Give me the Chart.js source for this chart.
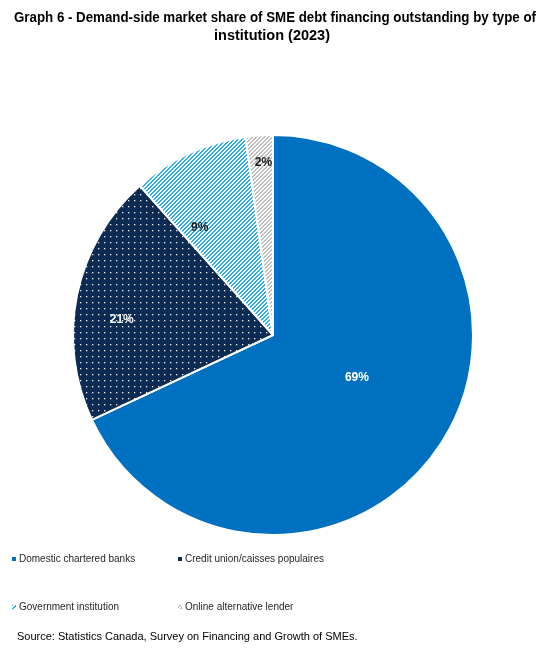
<!DOCTYPE html>
<html>
<head>
<meta charset="utf-8">
<script src="https://cdn.jsdelivr.net/npm/chart.js@4.4.1/dist/chart.umd.min.js"></script>
<style>
  html, body { margin: 0; padding: 0; background: #ffffff; }
  #wrap { width: 550px; height: 656px; }
</style>
</head>
<body>
<div id="wrap"><canvas id="c" width="550" height="656"></canvas></div>
<script>
// ---- Data ----
const categories = [
  "Domestic chartered banks",
  "Credit union/caisses populaires",
  "Government institution",
  "Online alternative lender"
];
const shareValues = [68.1, 20.4, 9.4, 2.2];
const shareLabels = ["69%", "21%", "9%", "2%"];
const titleLines = [
  "Graph 6 - Demand-side market share of SME debt financing outstanding by type of",
  "institution (2023)"
];
const sourceNote = "Source: Statistics Canada, Survey on Financing and Growth of SMEs.";

// ---- Styling ----
const FONT = "'Liberation Sans', Arial, sans-serif";
const BLUE = "#0070C0";
const NAVY = "#0B2B52";
const LIGHTBLUE = "#2AAEE8";
const GRAY = "#BDBDBD";

function makePattern(kind) {
  const c = document.createElement("canvas");
  const ctx = c.getContext("2d");
  if (kind === "dots") {
    c.width = 6; c.height = 6;
    ctx.fillStyle = NAVY; ctx.fillRect(0, 0, 6, 6);
    ctx.fillStyle = "rgba(255,255,255,0.95)";
    ctx.fillRect(2, 2, 1.3, 1.3);
  } else {
    const col = kind === "blueStripe" ? LIGHTBLUE : GRAY;
    c.width = 4; c.height = 4;
    ctx.fillStyle = "#ffffff"; ctx.fillRect(0, 0, 4, 4);
    ctx.fillStyle = col;
    for (let x = 0; x < 4; x++) {
      for (let y = 0; y < 4; y++) {
        if ((x + y) % 4 < 2) ctx.fillRect(x, y, 1, 1);
      }
    }
  }
  return document.createElement("canvas").getContext("2d").createPattern(c, "repeat");
}

const fills = [BLUE, makePattern("dots"), makePattern("blueStripe"), makePattern("grayStripe")];
const labelColors = ["#ffffff", "#ffffff", "#1a1a1a", "#1a1a1a"];
// where each value label sits inside its slice: fraction along the arc, fraction of radius
const labelPlacement = [
  { along: 0.477, radial: 0.47 },
  { along: 0.42, radial: 0.76 },
  { along: 0.22, radial: 0.65 },
  { along: 0.6, radial: 0.865 }
];

const valueLabelPlugin = {
  id: "valueLabels",
  afterDatasetsDraw(chart) {
    const ctx = chart.ctx;
    const meta = chart.getDatasetMeta(0);
    ctx.save();
    ctx.font = "bold 12px " + FONT;
    ctx.textAlign = "center";
    ctx.textBaseline = "middle";
    meta.data.forEach((arc, i) => {
      const p = arc.getProps(["x", "y", "startAngle", "endAngle", "outerRadius"], true);
      const pl = labelPlacement[i];
      const ang = p.startAngle + (p.endAngle - p.startAngle) * pl.along;
      const r = p.outerRadius * pl.radial;
      ctx.fillStyle = labelColors[i];
      ctx.fillText(shareLabels[i], p.x + Math.cos(ang) * r, p.y + Math.sin(ang) * r);
    });
    ctx.restore();
  }
};

const textPlugin = {
  id: "titleLegendSource",
  afterDraw(chart) {
    const ctx = chart.ctx;
    ctx.save();
    // title
    ctx.font = "bold 14.5px " + FONT;
    ctx.fillStyle = "#000000";
    ctx.textAlign = "center";
    ctx.textBaseline = "middle";
    ctx.fillText(titleLines[0], 275, 18, 522);
    ctx.fillText(titleLines[1], 272, 36, 522);
    // legend
    ctx.font = "10px " + FONT;
    ctx.textAlign = "left";
    const cols = [12, 178];
    const rows = [559, 607];
    categories.forEach((name, i) => {
      const x = cols[i % 2];
      const y = rows[Math.floor(i / 2)];
      ctx.fillStyle = fills[i];
      ctx.fillRect(x, y - 2, 4, 4);
      ctx.fillStyle = "#262626";
      ctx.fillText(name, x + 7, y);
    });
    // source
    ctx.font = "11px " + FONT;
    ctx.fillStyle = "#000000";
    ctx.fillText(sourceNote, 17, 637);
    ctx.restore();
  }
};

new Chart(document.getElementById("c"), {
  type: "pie",
  data: {
    labels: categories,
    datasets: [{
      data: shareValues,
      backgroundColor: fills,
      borderColor: "#ffffff",
      borderWidth: 2
    }]
  },
  options: {
    responsive: false,
    animation: false,
    layout: { padding: { left: 72, right: 76, top: 134, bottom: 120 } },
    plugins: {
      legend: { display: false },
      tooltip: { enabled: false },
      title: { display: false }
    }
  },
  plugins: [valueLabelPlugin, textPlugin]
});
</script>
</body>
</html>
